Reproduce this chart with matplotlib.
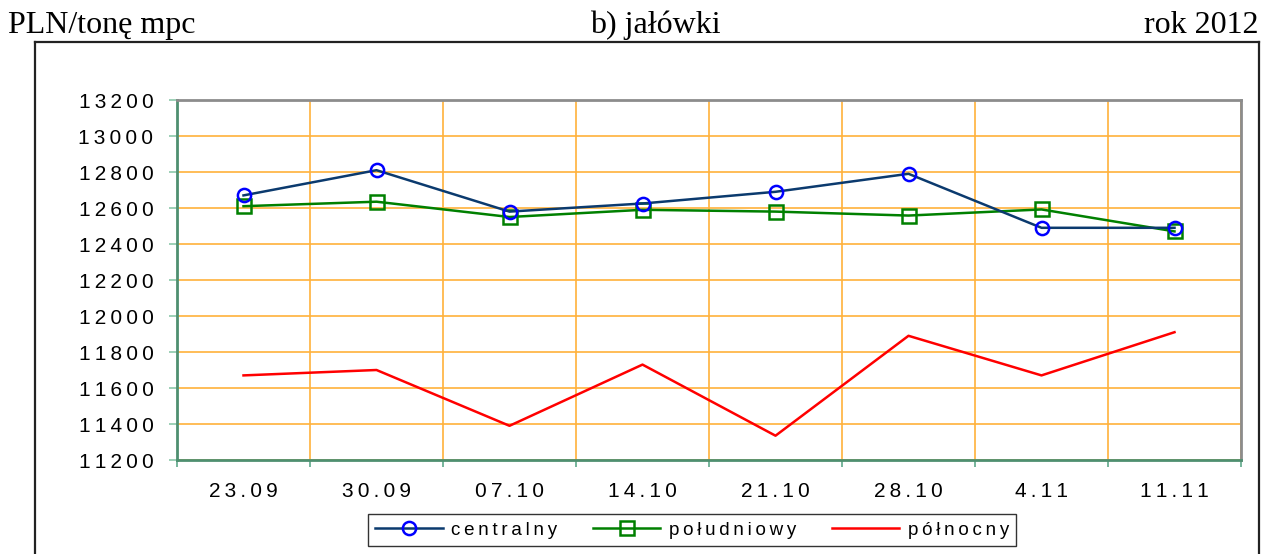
import numpy as np
import matplotlib.pyplot as plt
from matplotlib.lines import Line2D

# dane
dates = ['23.09', '30.09', '07.10', '14.10', '21.10', '28.10', '4.11', '11.11']
centralny = [12670, 12810, 12580, 12625, 12690, 12790, 12490, 12490]
poludniowy = [12610, 12635, 12550, 12590, 12580, 12558, 12592, 12470]
polnocny = [11670, 11700, 11390, 11730, 11335, 11890, 11670, 11910]
y_ticks = list(range(11200, 13201, 200))
series_names = ['centralny', 'południowy', 'północny']

SANS = ['Liberation Sans', 'DejaVu Sans']
SERIF = ['Liberation Serif', 'DejaVu Serif']


def spaced(s):
    # rozstrzelony tekst jak w Excelu
    return '\u2009'.join(s)


W, H = 1263, 554
fig = plt.figure(figsize=(W / 100, H / 100), dpi=100)
ax = fig.add_axes([177 / W, 1 - 460 / H, (1241 - 177) / W, (460 - 100) / H])

x = np.arange(len(dates))
ax.plot(x, centralny, color='#0B3A6E', lw=1.8, marker='o', ms=9.5,
        mfc='none', mec='#0000FF', mew=1.8, label=spaced(series_names[0]), zorder=4)
ax.plot(x, poludniowy, color='#008000', lw=1.8, marker='s', ms=9.5,
        mfc='none', mec='#008000', mew=1.8, label=spaced(series_names[1]), zorder=3)
ax.plot(x, polnocny, color='#FF0000', lw=1.8, label=spaced(series_names[2]), zorder=3)

ax.set_xlim(-0.5, len(dates) - 0.5)
ax.set_ylim(y_ticks[0], y_ticks[-1])
ax.set_yticks(y_ticks)
ax.set_yticklabels([spaced(str(v)) for v in y_ticks], family=SANS, fontsize=15)
ax.set_xticks(x)
ax.set_xticklabels([spaced(d) for d in dates], family=SANS, fontsize=15)
ax.set_xticks(np.arange(-0.5, len(dates)), minor=True)

ax.tick_params(axis='x', which='major', length=0, pad=16)
ax.tick_params(axis='x', which='minor', length=5, width=1.2, color='#5FA88A', direction='out')
ax.tick_params(axis='y', length=6, width=1.2, color='#8CC8AA', pad=11)

ax.grid(True, axis='y', which='major', color='#FFB13B', lw=1.2)
ax.grid(True, axis='x', which='minor', color='#FFB13B', lw=1.2)
ax.set_axisbelow(True)

for side in ['left', 'bottom']:
    ax.spines[side].set_color('#4E8F70')
    ax.spines[side].set_linewidth(2)
for side in ['top', 'right']:
    ax.spines[side].set_color('#8C8C8C')
    ax.spines[side].set_linewidth(2)

# ramka wokol calego wykresu
frame_kw = dict(color='#222222', lw=1.6, transform=fig.transFigure)
fl, fr, ft = 35 / W, 1259 / W, 1 - 42 / H
fig.add_artist(Line2D([fl, fr], [ft, ft], **frame_kw))
fig.add_artist(Line2D([fl, fl], [-0.01, ft], **frame_kw))
fig.add_artist(Line2D([fr, fr], [-0.01, ft], **frame_kw))

# napisy nad wykresem
base = 1 - 33 / H
fig.text(8 / W, base, 'PLN/tonę mpc', family=SERIF, fontsize=23, va='baseline', ha='left')
fig.text(655 / W, base, 'b) jałówki', family=SERIF, fontsize=23, va='baseline', ha='center')
fig.text(1258 / W, base, 'rok 2012', family=SERIF, fontsize=23, va='baseline', ha='right')

leg = fig.legend(loc='center', bbox_to_anchor=(692 / W, 1 - 530 / H), ncol=3,
                 prop={'family': SANS, 'size': 13.5}, frameon=True, fancybox=False,
                 edgecolor='black', handlelength=3.6, handletextpad=0.45,
                 columnspacing=1.9, borderpad=0.4, borderaxespad=0)
leg.get_frame().set_linewidth(1.0)

fig.savefig('out.png', dpi=100)
